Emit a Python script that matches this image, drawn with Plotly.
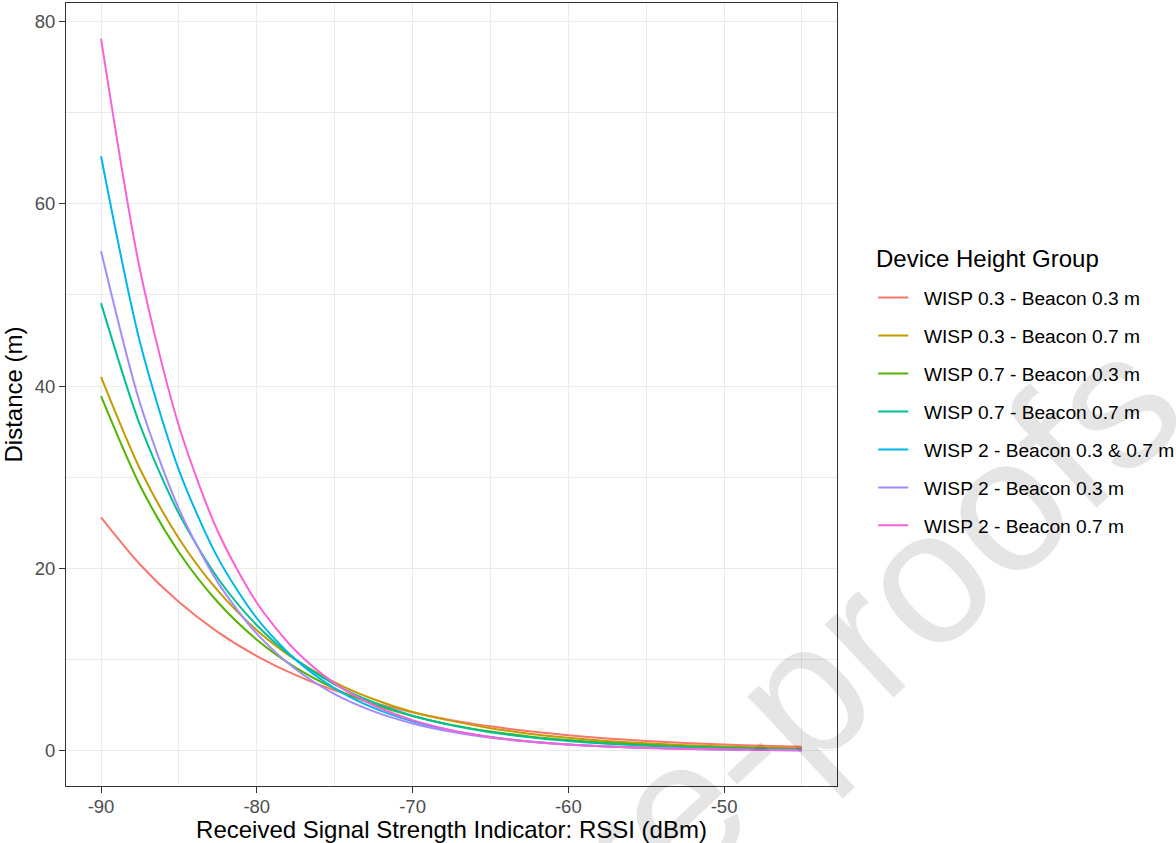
import plotly.graph_objects as go

# RSSI values (dBm) at which distances were read
rssi = [-90, -87.5, -85, -82.5, -80, -77.5, -75, -72.5, -70, -67.5,
        -65, -62.5, -60, -57.5, -55, -52.5, -50, -47.5, -45]

x_tick_vals = [-90, -80, -70, -60, -50]
x_tick_text = ["-90", "-80", "-70", "-60", "-50"]
y_tick_vals = [0, 20, 40, 60, 80]
y_tick_text = ["0", "20", "40", "60", "80"]

groups = [
    "WISP 0.3 - Beacon 0.3 m",
    "WISP 0.3 - Beacon 0.7 m",
    "WISP 0.7 - Beacon 0.3 m",
    "WISP 0.7 - Beacon 0.7 m",
    "WISP 2 - Beacon 0.3 & 0.7 m",
    "WISP 2 - Beacon 0.3 m",
    "WISP 2 - Beacon 0.7 m",
]

d_w03_b03 = [25.6, 20.44, 16.32, 13.03, 10.41, 8.31, 6.64, 5.30, 4.23, 3.38,
             2.70, 2.16, 1.72, 1.37, 1.10, 0.88, 0.70, 0.56, 0.45]
d_w03_b07 = [41.0, 30.91, 23.30, 17.57, 13.24, 9.98, 7.53, 5.67, 4.28, 3.30,
             2.50, 1.90, 1.45, 1.10, 0.84, 0.64, 0.49, 0.37, 0.28]
d_w07_b03 = [38.9, 29.11, 21.78, 16.30, 12.20, 9.13, 6.83, 5.11, 3.83, 2.86,
             2.14, 1.60, 1.20, 0.90, 0.67, 0.50, 0.38, 0.28, 0.21]
d_w07_b07 = [49.1, 35.74, 26.02, 18.94, 13.79, 10.04, 7.31, 5.32, 3.87, 2.82,
             2.05, 1.50, 1.09, 0.79, 0.58, 0.42, 0.31, 0.22, 0.16]
d_w2_b0307 = [65.2, 44.81, 30.80, 21.17, 14.55, 10.00, 6.87, 4.72, 3.25, 2.23,
              1.53, 1.05, 0.72, 0.50, 0.34, 0.24, 0.16, 0.11, 0.08]
d_w2_b03 = [54.8, 38.14, 26.55, 18.48, 12.86, 8.95, 6.23, 4.34, 3.02, 2.10,
            1.46, 1.02, 0.71, 0.49, 0.34, 0.24, 0.17, 0.12, 0.08]
d_w2_b07 = [78.1, 52.75, 35.63, 24.06, 16.25, 10.98, 7.41, 5.01, 3.38, 2.28,
            1.54, 1.04, 0.70, 0.48, 0.32, 0.22, 0.15, 0.10, 0.07]

series = [d_w03_b03, d_w03_b07, d_w07_b03, d_w07_b07, d_w2_b0307, d_w2_b03, d_w2_b07]
colors = ["#F8766D", "#C49A00", "#53B400", "#00C094", "#00B6EB", "#A58AFF", "#FB61D7"]

FONT = "Liberation Sans, Arial, Helvetica, sans-serif"
NBSP = "\u00a0\u00a0"  # small gap between legend key and label, as in the original

fig = go.Figure()
for name, vals, col in zip(groups, series, colors):
    fig.add_trace(go.Scatter(
        x=rssi, y=vals, mode="lines", name=NBSP + name, legendgroup=name,
        line=dict(color=col, width=2, shape="spline", smoothing=0.8),
    ))

axis_common = dict(
    showline=True, linecolor="#333333", linewidth=1.1, mirror=True,
    ticks="outside", ticklen=6, tickwidth=1.1, tickcolor="#333333",
    tickfont=dict(family=FONT, size=18.5, color="#4D4D4D"),
    showgrid=True, gridcolor="#EBEBEB", gridwidth=1.1, zeroline=False,
)

fig.update_xaxes(
    range=[-92.25, -42.75], tickmode="array", tickvals=x_tick_vals, ticktext=x_tick_text,
    ticklabelstandoff=-2,
    minor=dict(tick0=-90, dtick=5, showgrid=True, gridcolor="#EBEBEB", gridwidth=0.6, ticks=""),
    title=dict(text="Received Signal Strength Indicator: RSSI (dBm)",
               font=dict(family=FONT, size=24, color="black"), standoff=10),
    **axis_common,
)
fig.update_yaxes(
    range=[-3.84, 82.0], tickmode="array", tickvals=y_tick_vals, ticktext=y_tick_text,
    minor=dict(tick0=0, dtick=10, showgrid=True, gridcolor="#EBEBEB", gridwidth=0.6, ticks=""),
    title=dict(text="Distance (m)", font=dict(family=FONT, size=24, color="black"), standoff=7),
    **axis_common,
)

fig.update_layout(
    width=1176, height=843,
    margin=dict(l=66, r=339, t=3, b=57, autoexpand=False),
    plot_bgcolor="white", paper_bgcolor="white",
    font=dict(family=FONT),
    legend=dict(
        x=1.047, xanchor="left", y=0.648, yanchor="top",
        font=dict(family=FONT, size=19.2, color="black"),
        tracegroupgap=10, itemwidth=30, bgcolor="rgba(0,0,0,0)",
    ),
    annotations=[
        dict(text="Device Height Group", xref="paper", yref="paper",
             x=1.048, y=0.674, xanchor="left", yanchor="middle", showarrow=False,
             font=dict(family=FONT, size=24, color="black")),
        dict(text="Journal Pre-proofs", xref="paper", yref="paper",
             x=0.662, y=-0.15, xanchor="center", yanchor="middle",
             textangle=-43, showarrow=False,
             font=dict(family=FONT, size=190, color="rgba(0,0,0,0.1)")),
    ],
)

fig.write_html("out.html")
